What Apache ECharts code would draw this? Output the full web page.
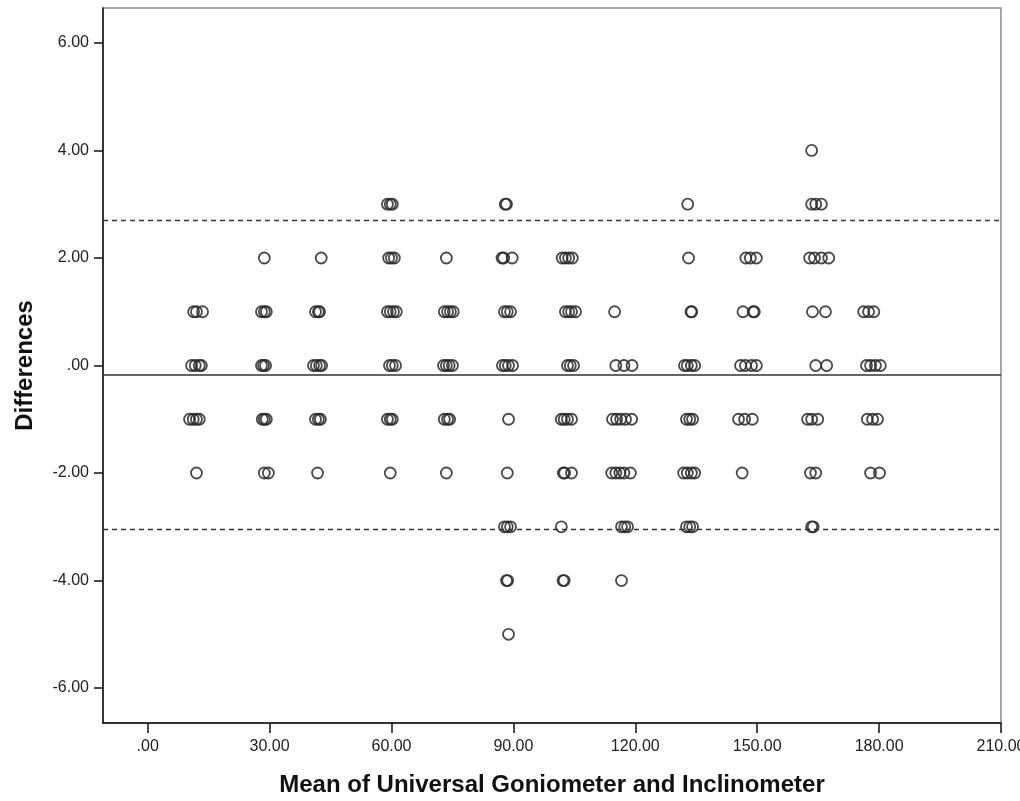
<!DOCTYPE html>
<html>
<head>
<meta charset="utf-8">
<script src="https://cdn.jsdelivr.net/npm/echarts@6/dist/echarts.min.js"></script>
<style>
html,body{margin:0;padding:0;background:#fff;}
#chart{width:1020px;height:801px;}
</style>
</head>
<body>
<div id="chart"></div>
<script>
// Mean of the two instruments (x) and their differences (y)
const meanValues = [
  // ~12
  11.3, 12.0, 13.5,  10.8, 11.7, 12.7, 13.2,  10.3, 11.2, 12.0, 12.7,  12.0,
  // ~29
  28.7,  28.0, 28.7, 29.2,  28.0, 28.5, 29.0,  28.2, 28.7, 29.2,  28.7, 29.7,
  // ~42
  42.7,  41.3, 42.0, 42.3,  40.8, 41.5, 42.3, 42.8,  41.3, 42.0, 42.5,  41.8,
  // ~60
  59.0, 59.7, 60.2,  59.3, 60.0, 60.7,  59.0, 59.7, 60.5, 61.2,  59.5, 60.2, 61.0,  59.0, 59.7, 60.2,  59.7,
  // ~74
  73.5,  73.0, 73.8, 74.5, 75.2,  72.8, 73.5, 74.2, 75.0,  73.0, 73.8, 74.3,  73.5,
  // ~88
  88.0, 88.3,  87.2, 87.6, 89.7,  87.8, 88.5, 89.3,  87.3, 88.0, 88.8, 89.8,  88.8,  88.5,  87.8, 88.5, 89.3,  88.3, 88.6,  88.8,
  // ~103
  102.0, 102.8, 103.6, 104.5,  102.8, 103.6, 104.3, 105.3,  103.3, 104.0, 104.8,  101.8, 102.5, 103.3, 104.3,  102.3, 102.6, 104.3,  101.8,  102.2, 102.5,
  // ~117
  114.9,  115.2, 117.2, 119.2,  114.4, 115.4, 116.4, 117.6, 119.1,  114.2, 115.2, 116.2, 117.2, 118.8,  116.6, 117.4, 118.1,  116.6,
  // ~133
  132.9,  133.1,  133.7, 133.9,  132.1, 132.8, 133.8, 134.6,  132.6, 133.4, 134.1,  131.9, 132.8, 133.8, 134.6,  132.6, 133.4, 134.1,
  // ~148
  147.2, 148.3, 149.8,  146.5, 149.0, 149.3,  145.9, 147.1, 148.6, 149.8,  145.4, 146.9, 148.8,  146.3,
  // ~165
  163.4,  163.4, 164.4, 165.8,  162.9, 164.1, 165.8, 167.6,  163.6, 166.8,  164.4, 167.1,  162.4, 163.4, 164.9,  163.1, 164.4,  163.4, 163.8,
  // ~178
  176.2, 177.4, 178.7,  176.9, 177.9, 179.1, 180.3,  177.1, 178.4, 179.6,  177.9, 180.1
];
const diffValues = [
  1, 1, 1,  0, 0, 0, 0,  -1, -1, -1, -1,  -2,
  2,  1, 1, 1,  0, 0, 0,  -1, -1, -1,  -2, -2,
  2,  1, 1, 1,  0, 0, 0, 0,  -1, -1, -1,  -2,
  3, 3, 3,  2, 2, 2,  1, 1, 1, 1,  0, 0, 0,  -1, -1, -1,  -2,
  2,  1, 1, 1, 1,  0, 0, 0, 0,  -1, -1, -1,  -2,
  3, 3,  2, 2, 2,  1, 1, 1,  0, 0, 0, 0,  -1,  -2,  -3, -3, -3,  -4, -4,  -5,
  2, 2, 2, 2,  1, 1, 1, 1,  0, 0, 0,  -1, -1, -1, -1,  -2, -2, -2,  -3,  -4, -4,
  1,  0, 0, 0,  -1, -1, -1, -1, -1,  -2, -2, -2, -2, -2,  -3, -3, -3,  -4,
  3,  2,  1, 1,  0, 0, 0, 0,  -1, -1, -1,  -2, -2, -2, -2,  -3, -3, -3,
  2, 2, 2,  1, 1, 1,  0, 0, 0, 0,  -1, -1, -1,  -2,
  4,  3, 3, 3,  2, 2, 2, 2,  1, 1,  0, 0,  -1, -1, -1,  -2, -2,  -3, -3,
  1, 1, 1,  0, 0, 0, 0,  -1, -1, -1,  -2, -2
];
const meanDifference = -0.165;
const upperLimit = 2.705;
const lowerLimit = -3.035;
const xTicks = [0, 30, 60, 90, 120, 150, 180, 210];
const yTicks = [-6, -4, -2, 0, 2, 4, 6];
const xTitle = 'Mean of Universal Goniometer and Inclinometer';
const yTitle = 'Differences';

const points = meanValues.map((m, i) => [m, diffValues[i]]);
const fmt = v => v.toFixed(2).replace(/^(-?)0\./, '$1.');
const FONT = 'Arial, "Liberation Sans", sans-serif';

const chart = echarts.init(document.getElementById('chart'), null, {renderer: 'canvas'});
chart.setOption({
  animation: false,
  backgroundColor: '#fff',
  grid: {left: 103, right: 19, top: 8, bottom: 78, containLabel: false, outerBoundsMode: 'none',
         show: true, borderColor: '#8a8a8a', borderWidth: 1.5, backgroundColor: 'transparent'},
  xAxis: {
    type: 'value', min: -11, max: 210,
    name: xTitle, nameLocation: 'middle', nameGap: 50,
    nameTextStyle: {fontFamily: FONT, fontWeight: 'bold', fontSize: 24, color: '#111'},
    axisLine: {show: true, onZero: false, lineStyle: {color: '#111', width: 1.5}},
    axisTick: {show: true, length: 10, customValues: xTicks, lineStyle: {color: '#111', width: 1.5}},
    axisLabel: {customValues: xTicks, formatter: fmt, margin: 16, hideOverlap: false, fontFamily: FONT, fontSize: 16, color: '#222'},
    splitLine: {show: false}
  },
  yAxis: {
    type: 'value', min: -6.65, max: 6.65,
    name: yTitle, nameLocation: 'middle', nameGap: 66,
    nameTextStyle: {fontFamily: FONT, fontWeight: 'bold', fontSize: 24, color: '#111'},
    axisLine: {show: true, onZero: false, lineStyle: {color: '#111', width: 1.5}},
    axisTick: {show: true, length: 9, customValues: yTicks, lineStyle: {color: '#111', width: 1.5}},
    axisLabel: {customValues: yTicks, formatter: fmt, margin: 14, fontFamily: FONT, fontSize: 16, color: '#222'},
    splitLine: {show: false}
  },
  series: [{
    type: 'scatter',
    data: points,
    symbol: 'circle',
    symbolSize: 11,
    itemStyle: {color: 'transparent', borderColor: '#2a2a2a', borderWidth: 1.8, opacity: 0.85},
    emphasis: {disabled: true},
    markLine: {
      silent: true, symbol: ['none', 'none'], label: {show: false},
      data: [
        {yAxis: meanDifference, lineStyle: {type: 'solid', color: '#333', width: 1.5}},
        {yAxis: upperLimit, lineStyle: {type: [5, 4], color: '#333', width: 1.3}},
        {yAxis: lowerLimit, lineStyle: {type: [5, 4], color: '#333', width: 1.3}}
      ]
    }
  }]
});
</script>
</body>
</html>
